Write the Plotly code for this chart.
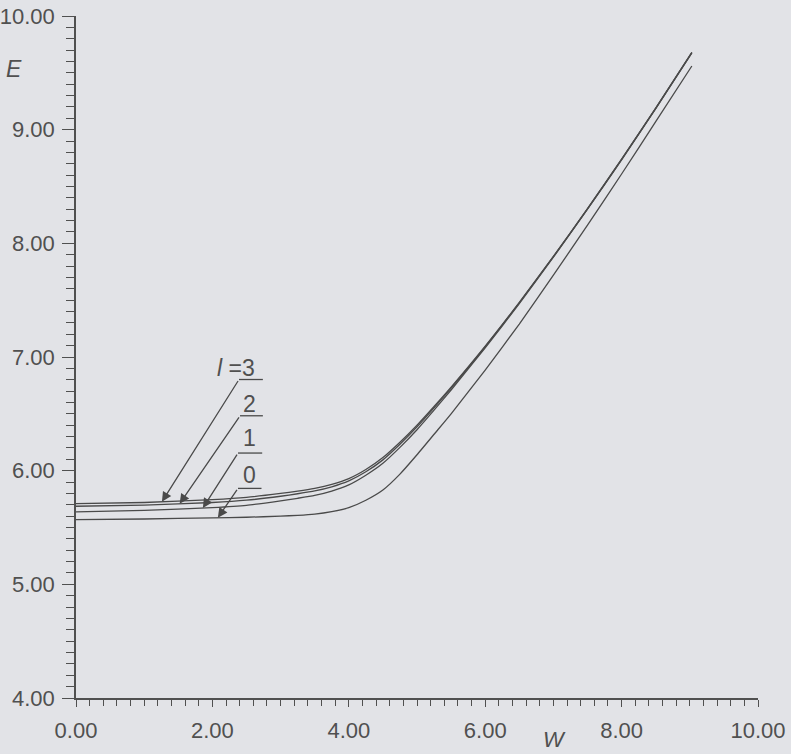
import plotly.graph_objects as go

# ---- data ----
W = [0, 1, 2, 2.5, 3, 3.25, 3.5, 3.75, 4, 4.25, 4.5, 4.75, 5, 5.25, 5.5, 6, 6.5, 7, 7.5, 8, 8.5, 9.03]
E_l3 = [5.71, 5.72, 5.745, 5.765, 5.80, 5.82, 5.845, 5.88, 5.93, 6.01, 6.115, 6.25, 6.40, 6.565, 6.735,
        7.095, 7.48, 7.885, 8.305, 8.74, 9.19, 9.68]
E_l2 = [5.687, 5.697, 5.72, 5.74, 5.775, 5.797, 5.822, 5.858, 5.91, 5.99, 6.095, 6.232, 6.385, 6.553, 6.726,
        7.09, 7.477, 7.883, 8.303, 8.738, 9.188, 9.678]
E_l1 = [5.637, 5.65, 5.675, 5.695, 5.735, 5.757, 5.782, 5.82, 5.875, 5.96, 6.065, 6.205, 6.36, 6.532, 6.71,
        7.08, 7.47, 7.878, 8.30, 8.735, 9.185, 9.675]
E_l0 = [5.57, 5.575, 5.585, 5.59, 5.60, 5.607, 5.618, 5.64, 5.675, 5.74, 5.83, 5.97, 6.14, 6.32, 6.50,
        6.885, 7.29, 7.72, 8.16, 8.61, 9.07, 9.56]

series = {"3": E_l3, "2": E_l2, "1": E_l1, "0": E_l0}

# label leaders: arrow tip W on curve, tail (W, E), label text, label E
label_names = ["3", "2", "1", "0"]
tip_W = [1.26, 1.52, 1.86, 2.08]
tail_W = [2.39, 2.405, 2.375, 2.375]
tail_E = [6.802, 6.483, 6.155, 5.844]
under_end_W = [2.74, 2.74, 2.73, 2.72]
text_E = [6.905, 6.585, 6.286, 5.958]
label_text = ["<i>l</i> =3", "2", "1", "0"]

x_ticks = [0, 2, 4, 6, 8, 10]
y_ticks = [4, 5, 6, 7, 8, 9, 10]

INK = "#505050"
BG = "#e2e3e7"
FONT = "Liberation Sans"
TICKFONT = dict(family=FONT, size=22, color=INK)


def interp(xs, ys, x):
    for i in range(len(xs) - 1):
        if xs[i] <= x <= xs[i + 1]:
            t = (x - xs[i]) / (xs[i + 1] - xs[i])
            return ys[i] + t * (ys[i + 1] - ys[i])
    return ys[-1]


fig = go.Figure()
for name, ys in series.items():
    fig.add_trace(go.Scatter(x=W, y=ys, mode="lines", name="l=" + name,
                             line=dict(color="#4a4a4a", width=1.3, shape="spline", smoothing=0.5),
                             showlegend=False, hoverinfo="skip"))

for i, name in enumerate(label_names):
    tipE = interp(W, series[name], tip_W[i])
    fig.add_annotation(x=tip_W[i], y=tipE, ax=tail_W[i], ay=tail_E[i],
                       xref="x", yref="y", axref="x", ayref="y",
                       showarrow=True, arrowhead=2, arrowsize=1.5, arrowwidth=1.3,
                       arrowcolor="#4a4a4a", text="", standoff=0)
    fig.add_shape(type="line", x0=tail_W[i], y0=tail_E[i], x1=under_end_W[i], y1=tail_E[i],
                  xref="x", yref="y", line=dict(color="#4a4a4a", width=1.3))
    if name == "3":
        fig.add_annotation(x=2.66, y=text_E[i], xref="x", yref="y", text=label_text[i],
                           showarrow=False, xanchor="right", yanchor="middle",
                           font=dict(family=FONT, size=23, color=INK))
    else:
        fig.add_annotation(x=2.55, y=text_E[i], xref="x", yref="y", text=label_text[i],
                           showarrow=False, xanchor="center", yanchor="middle",
                           font=dict(family=FONT, size=23, color=INK))

# axis titles
fig.add_annotation(x=-0.091, y=9.53, xref="paper", yref="y", text="<i>E</i>",
                   showarrow=False, xanchor="center", yanchor="middle",
                   font=dict(family=FONT, size=23, color=INK))
fig.add_annotation(x=7.02, y=-0.0815, xref="x", yref="paper", text="<i>W</i>",
                   showarrow=False, xanchor="center", yanchor="bottom",
                   font=dict(family=FONT, size=22, color=INK))

fig.update_layout(
    width=791, height=754,
    margin=dict(l=76, r=33, t=16, b=56),
    paper_bgcolor=BG, plot_bgcolor=BG,
    font=dict(family=FONT, size=22, color=INK),
)
fig.update_xaxes(range=[0, 10], tickvals=x_ticks, tickformat=".2f", automargin=False,
                 showgrid=False, zeroline=False, showline=True, linecolor=INK, linewidth=1.5,
                 ticks="outside", ticklen=7, tickwidth=1.3, tickcolor=INK,
                 ticklabelstandoff=5,
                 minor=dict(dtick=0.2, ticks="outside", ticklen=6, tickwidth=1.2, tickcolor=INK,
                            showgrid=False),
                 tickfont=TICKFONT)
fig.update_yaxes(range=[4, 10], tickvals=y_ticks, tickformat=".2f", automargin=False,
                 showgrid=False, zeroline=False, showline=True, linecolor=INK, linewidth=1.5,
                 ticks="outside", ticklen=12, tickwidth=1.3, tickcolor=INK,
                 ticklabelstandoff=3,
                 minor=dict(dtick=0.1, ticks="outside", ticklen=8, tickwidth=1.2, tickcolor=INK,
                            showgrid=False),
                 tickfont=TICKFONT)

fig.write_html("out.html",
               config={"displayModeBar": False},
               post_script="document.body.style.margin='0';document.body.style.padding='0';"
                           "document.documentElement.style.background='" + BG + "';"
                           "document.body.style.background='" + BG + "';")
